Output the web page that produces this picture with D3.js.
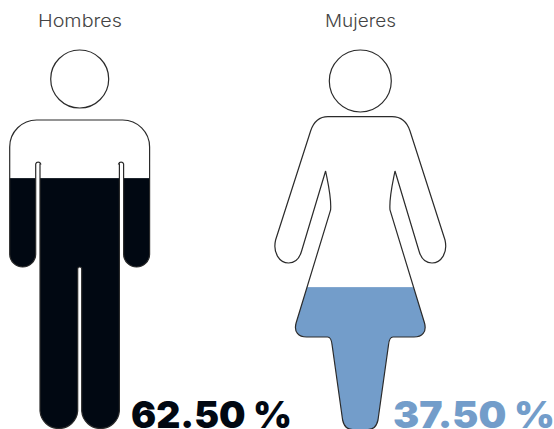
<!DOCTYPE html>
<html>
<head>
<meta charset="utf-8">
<style>
	html, body { margin: 0; padding: 0; background: #fff; overflow: hidden; }
	svg { display: block; }
</style>
</head>
<body>
<svg width="554" height="429"></svg>

<script src="https://d3js.org/d3.v7.min.js"></script>
<script>
	// share of each group
	const categories = ["Hombres", "Mujeres"]
	const shares = [62.5, 37.5]
	const colors = ["#010812", "#739dca"]

	const format = d => d3.format(".2f")(d) + " %"

	// the silhouettes are drawn by hand, the fill level comes from the scale
	const figures = [
		{
			labelX: 38,
			labelW: 84,
			valueX: 131,
			valueW: 161,
			head: [79.7, 79, 29],
			range: [430, 27],
			body: `M37 120 H122.5 A27 27 0 0 1 149.6 147 V254 A13 13 0 0 1 123.6 254 V164
				A2.6 2.6 0 0 0 118.6 164 H119.4 V411 A18.9 18.9 0 0 1 81.7 411 V269
				A2 2 0 0 0 77.7 269 V411 A18.9 18.9 0 0 1 40 411 V164 H40.7
				A2.6 2.6 0 0 0 35.7 164 V254 A13 13 0 0 1 9.7 254 V147 A27 27 0 0 1 37 120 Z`
		},
		{
			labelX: 325,
			labelW: 71,
			valueX: 393,
			valueW: 162,
			head: [360.3, 81, 31],
			range: [430, 49],
			body: `M328 116.7 H392 C401 116.7 407 122 410 131 L445 240 C448 253 441 263 432 263
				C425 263 421 258 419 251 L395 171 C392 186 389 198 390 210 L424.5 323
				C427 332 422 337 414 337 H393 C390 337 389 340 388.5 345 L378 420
				C376.5 427 372 429.5 368 429.5 H352.6 C348.6 429.5 344.1 427 342.6 420 L332.1 345
				C331.6 340 330.6 337 327.6 337 H306.6 C298.6 337 293.6 332 296.1 323 L330.6 210
				C331.6 198 328.6 186 325.6 171 L301.6 251 C299.6 258 295.6 263 288.6 263
				C279.6 263 272.6 253 275.6 240 L310.6 131 C313.6 122 319.6 116.7 328 116.7 Z`
		}
	]

	const svg = d3.select("svg")
	const defs = svg.append("defs")

	const group = svg.selectAll("g")
		.data(categories.map((name, i) => ({name, share: shares[i], color: colors[i], ...figures[i]})))
		.join("g")

	group.each(function(d, i) {
		d.y = d3.scaleLinear().domain([0, 100]).range(d.range)
		defs.append("clipPath").attr("id", "body" + i)
			.append("path").attr("d", d.body)
	})

	group.append("rect")
		.attr("clip-path", (d, i) => `url(#body${i})`)
		.attr("x", 0)
		.attr("width", 554)
		.attr("y", d => d.y(d.share))
		.attr("height", d => d.y(0) - d.y(d.share))
		.attr("fill", d => d.color)

	group.append("path")
		.attr("d", d => d.body)
		.attr("fill", "none")
		.attr("stroke", "#2b2b2b")
		.attr("stroke-width", 1.2)

	group.append("circle")
		.attr("cx", d => d.head[0])
		.attr("cy", d => d.head[1])
		.attr("r", d => d.head[2])
		.attr("fill", "#fff")
		.attr("stroke", "#2b2b2b")
		.attr("stroke-width", 1.2)

	group.append("text")
		.attr("x", d => d.labelX)
		.attr("y", 27)
		.attr("font-family", "Inter, 'Open Sans', sans-serif")
		.attr("font-weight", 300)
		.attr("font-size", 17.5)
		.attr("textLength", d => d.labelW)
		.attr("lengthAdjust", "spacingAndGlyphs")
		.attr("fill", "#444")
		.text(d => d.name)

	group.append("text")
		.attr("x", d => d.valueX)
		.attr("y", 428)
		.attr("font-family", "Inter, Roboto, sans-serif")
		.attr("font-weight", 900)
		.attr("font-size", 37)
		.attr("textLength", d => d.valueW)
		.attr("lengthAdjust", "spacingAndGlyphs")
		.attr("fill", d => d.color)
		.text(d => format(d.share))
</script>
</body>
</html>
